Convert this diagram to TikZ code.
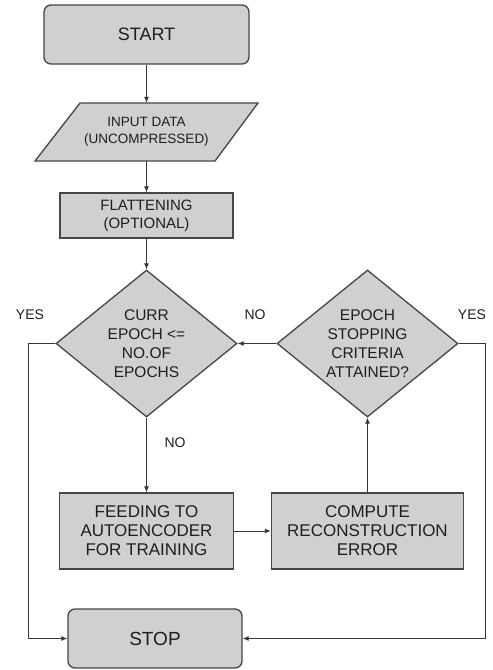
\documentclass[tikz,border=0pt]{standalone}
\usepackage{fontspec}
\setmainfont{Liberation Sans}
\usetikzlibrary{shapes.geometric,arrows.meta}
\definecolor{boxfill}{RGB}{208,208,208}
\definecolor{boxline}{RGB}{70,70,70}
\definecolor{txt}{RGB}{30,30,30}
\definecolor{connc}{RGB}{55,55,55}
\begin{document}
\begin{tikzpicture}[x=1pt,y=-1pt,
 box/.style={draw=boxline, line width=1.3pt, fill=boxfill, text=txt, inner sep=0pt, align=center},
 term/.style={box, rounded corners=7pt},
 dec/.style={box, diamond, aspect=1.23},
 conn/.style={draw=connc, line width=1pt, -{Latex[length=6pt,width=5pt]}},
 lbl/.style={text=txt, font=\fontsize{14}{17}\selectfont, inner sep=0pt}]
\useasboundingbox (0,0) rectangle (493,670);
\fill[white] (0,0) rectangle (493,670);

\node[term, minimum width=205pt, minimum height=59pt, font=\fontsize{18}{22}\selectfont] (start) at (146.5,34.5) {START};

\draw[draw=boxline, line width=1.3pt, fill=boxfill] (80,103) -- (258,103) -- (215,161) -- (35,161) -- cycle;
\node[text=txt, align=center, minimum width=130pt, minimum height=58pt, inner sep=0pt, font=\fontsize{13.5}{17}\selectfont] (inp) at (146.5,132) {INPUT DATA\\(UNCOMPRESSED)};

\node[box, minimum width=173pt, minimum height=45pt, font=\fontsize{15}{18}\selectfont] (flat) at (146.5,215.5) {FLATTENING\\(OPTIONAL)};

\node[dec, minimum width=181pt, minimum height=147pt, font=\fontsize{15.5}{19}\selectfont] (d1) at (146.5,343.5) {CURR\\EPOCH <=\\NO.OF\\EPOCHS};
\node[dec, minimum width=181pt, minimum height=147pt, font=\fontsize{15.5}{19}\selectfont] (d2) at (367.5,343.5) {EPOCH\\STOPPING\\CRITERIA\\ATTAINED?};

\node[box, minimum width=174pt, minimum height=76pt, font=\fontsize{17}{19}\selectfont] (feed) at (146.5,531) {FEEDING TO\\AUTOENCODER\\FOR TRAINING};
\node[box, minimum width=192pt, minimum height=76pt, font=\fontsize{17}{19}\selectfont] (comp) at (367.5,531) {COMPUTE\\RECONSTRUCTION\\ERROR};

\node[term, minimum width=174pt, minimum height=59pt, font=\fontsize{19}{22}\selectfont] (stop) at (155,638.5) {STOP};

\draw[conn] (start.south) -- (inp.north);
\draw[conn] (inp.south) -- (flat.north);
\draw[conn] (flat.south) -- (d1.north);
\draw[conn] (d2.west) -- (d1.east);
\draw[conn] (d1.south) -- (feed.north);
\draw[conn] (feed.east) -- (comp.west);
\draw[conn] (comp.north) -- (d2.south);
\coordinate (lc) at (28,343.5);
\coordinate (rc) at (485,343.5);
\draw[conn] (d1.west) -- (lc) |- (stop.west);
\draw[conn] (d2.east) -- (rc) |- (stop.east);

\node[lbl] (yes1) at (30,315) {YES};
\node[lbl] (no1) at (255,315) {NO};
\node[lbl] (no2) at (175,443) {NO};
\node[lbl] (yes2) at (472,315) {YES};
\end{tikzpicture}
\end{document}
